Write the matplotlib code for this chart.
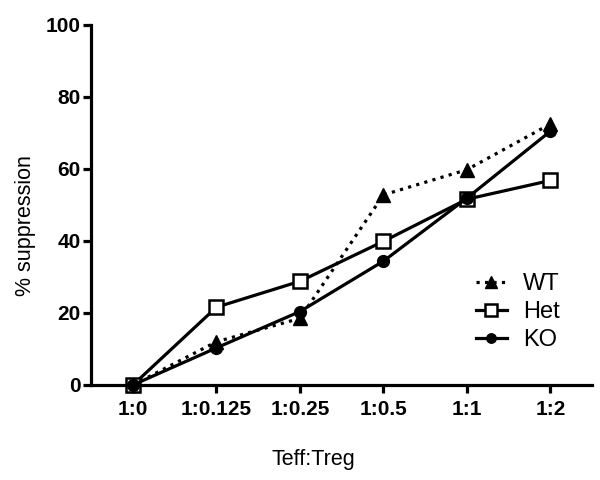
import numpy as np
import matplotlib
matplotlib.use('Agg')
import matplotlib.pyplot as plt

plt.rcParams['font.family'] = ['Liberation Sans', 'DejaVu Sans']

# Data
ratios = ['1:0', '1:0.125', '1:0.25', '1:0.5', '1:1', '1:2']
wt = [0, 12, 18.5, 52.8, 59.8, 72.5]
het = [0, 21.6, 28.8, 39.9, 51.6, 56.8]
ko = [0, 10.3, 20.4, 34.4, 51.9, 70.5]

x = np.arange(len(ratios))

fig = plt.figure(figsize=(6, 4.8), dpi=100)
ax = fig.add_axes([0.152, 0.198, 0.835, 0.75])

lw = 2.3
ax.plot(x, wt, ':', color='black', lw=lw, marker='^', ms=10,
        mfc='black', mec='black', label='WT', clip_on=False, zorder=3)
ax.plot(x, het, '-', color='black', lw=lw, marker='s', ms=10,
        mfc='white', mec='black', mew=1.8, label='Het', clip_on=False, zorder=4)
ax.plot(x, ko, '-', color='black', lw=lw, marker='o', ms=8.5,
        mfc='black', mec='black', label='KO', clip_on=False, zorder=5)

ax.set_xlim(-0.5, 5.5)
ax.set_ylim(0, 100)
ax.set_xticks(x)
ax.set_xticklabels(ratios)
ax.set_yticks([0, 20, 40, 60, 80, 100])

for s in ['top', 'right']:
    ax.spines[s].set_visible(False)
for s in ['left', 'bottom']:
    ax.spines[s].set_linewidth(2.3)

ax.tick_params(axis='both', width=2.3, length=6, labelsize=15)
ax.tick_params(axis='x', pad=5)
ax.tick_params(axis='y', pad=1.5)
for lab in ax.get_xticklabels() + ax.get_yticklabels():
    lab.set_fontweight('bold')

ax.set_xlabel('Teff:Treg', fontsize=15.5)
ax.set_ylabel('% suppression', fontsize=15.5)
ax.xaxis.set_label_coords(0.443, -0.208)
ax.xaxis.label.set_va('center')
ax.yaxis.set_label_coords(-0.132, 0.444)
ax.yaxis.label.set_va('center')

ax.legend(loc='center left', bbox_to_anchor=(0.749, 0.203), frameon=False,
          fontsize=17, handlelength=1.3, handletextpad=0.7, labelspacing=0.25,
          markerscale=0.8, borderaxespad=0)

fig.savefig('out.png', dpi=100)
